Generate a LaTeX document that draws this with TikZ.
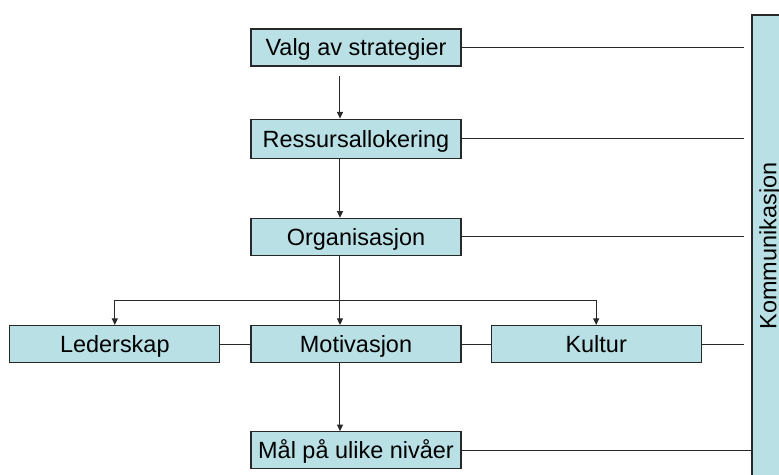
\documentclass[tikz,border=0pt]{standalone}
\usepackage{fontspec}
\setmainfont{Liberation Sans}
\usetikzlibrary{arrows.meta,positioning}
\definecolor{boksfarge}{RGB}{185,224,228}
\definecolor{strekfarge}{RGB}{40,40,40}

\begin{document}
\begin{tikzpicture}[node distance=39pt,
	blokk/.style={draw=strekfarge,line width=0.9pt,rectangle,fill=boksfarge,minimum width=157.5pt,minimum height=27.75pt,inner sep=0pt,text height=12.6pt,text depth=0pt,font=\fontsize{17.6}{21}\selectfont},
	pil/.style={-{Triangle[length=5pt,width=4.5pt]},draw=strekfarge,line width=0.75pt},
	linje/.style={draw=strekfarge,line width=0.75pt}]
					\useasboundingbox (-267pt,35.625pt) rectangle (317.25pt,-320.625pt);
					\clip (-267pt,35.625pt) rectangle (317.25pt,-320.625pt);
					
					\node[blokk] (valg) {Valg av strategier};
					\node[blokk,below=of valg,minimum height=29.25pt] (ressurs) {Ressursallokering};
					\node[blokk,below=44.25pt of ressurs] (org) {Organisasjon};
					\node[blokk,below=51.75pt of org] (motiv) {Motivasjon};
					\node[blokk,left=22.5pt of motiv] (leder) {Lederskap};
					\node[blokk,right=21.75pt of motiv] (kultur) {Kultur};
					\node[blokk,below=51pt of motiv] (maal) {Mål på ulike nivåer};
					\node[blokk,rotate=90,minimum width=346.5pt,minimum height=24pt] (komm) at (309pt,-148.875pt) {Kommunikasjon};
					
					\coordinate (deling) at ([xshift=-12pt,yshift=-33.5pt]org.south);
					\coordinate (kant) at (291pt,0);
					
					\draw[pil] ([xshift=-12pt,yshift=-6.75pt]valg.south) -- ([xshift=-12pt]ressurs.north);
					\draw[pil] ([xshift=-12pt]ressurs.south) -- ([xshift=-12pt]org.north);
					\draw[pil] ([xshift=-12pt]org.south) -- ([xshift=-12pt]motiv.north);
					\draw[pil] (deling) -| (leder.north);
					\draw[pil] (deling) -| (kultur.north);
					\draw[pil] ([xshift=-12pt]motiv.south) -- ([xshift=-12pt]maal.north);
					
					\draw[linje] (leder.east) -- (motiv.west);
					\draw[linje] (motiv.east) -- (kultur.west);
					\foreach \n in {valg,ressurs,org,kultur}
						\draw[linje] (\n.east) -- (\n.east -| kant);
					\draw[linje] (maal.east) -- (maal.east -| komm.north);
				\end{tikzpicture}
\end{document}
